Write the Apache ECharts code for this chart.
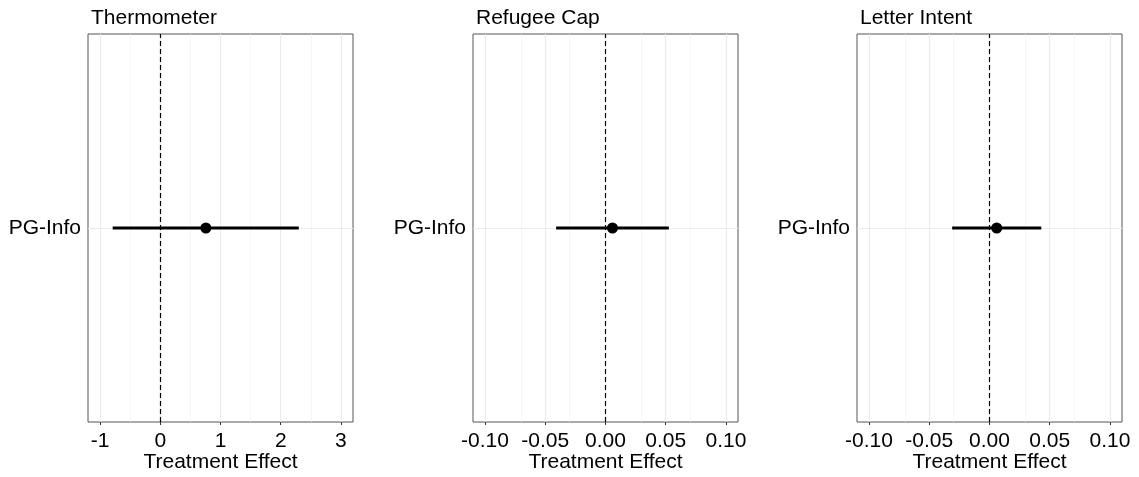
<!DOCTYPE html>
<html>
<head>
<meta charset="utf-8">
<script src="https://cdn.jsdelivr.net/npm/echarts@6/dist/echarts.min.js"></script>
<style>
html, body { margin: 0; background: #fff }
#c { width: 1139px; height: 477px }
</style>
</head>
<body>
<div id="c"></div>
<script>
const panels = ["Thermometer", "Refugee Cap", "Letter Intent"]
const term = "PG-Info"
const est = [0.757, 0.0058, 0.006]
const lo = [-0.79, -0.041, -0.031]
const hi = [2.30, 0.0526, 0.043]
const xMin = [-1.2, -0.11, -0.11]
const xMax = [3.2, 0.11, 0.11]
const ticks = [[-1, 0, 1, 2, 3], [-0.1, -0.05, 0, 0.05, 0.1], [-0.1, -0.05, 0, 0.05, 0.1]]
const tickLabels = [["-1", "0", "1", "2", "3"], ["-0.10", "-0.05", "0.00", "0.05", "0.10"], ["-0.10", "-0.05", "0.00", "0.05", "0.10"]]
const minorTicks = [[-0.5, 0.5, 1.5, 2.5], [-0.075, -0.025, 0.025, 0.075], [-0.075, -0.025, 0.025, 0.075]]

const FONT = "Liberation Sans, Arial, sans-serif"
const lefts = [88, 473, 857]
const chart = echarts.init(document.getElementById("c"), null, { renderer: "canvas" })

const opt = { animation: false, title: [], grid: [], xAxis: [], yAxis: [], series: [] }

panels.forEach((name, i) => {
    opt.title.push({ text: name, left: lefts[i] - 2, top: 3, textStyle: { fontFamily: FONT, fontSize: 21, fontWeight: "normal", color: "#000" } })
    opt.grid.push({ left: lefts[i], top: 34, width: 265, height: 388, outerBoundsMode: "none", containLabel: false, show: true, borderColor: "#555", borderWidth: 1, backgroundColor: "transparent" })
    opt.xAxis.push({
        type: "value", gridIndex: i, min: xMin[i], max: xMax[i],
        name: "Treatment Effect", nameLocation: "middle", nameGap: 29.5, nameMoveOverlap: false,
        nameTextStyle: { fontFamily: FONT, fontSize: 21, color: "#000" },
        axisLine: { show: false },
        axisTick: { show: true, length: 3, lineStyle: { color: "#333" }, customValues: ticks[i] },
        axisLabel: { fontFamily: FONT, fontSize: 21, color: "#000", margin: 9, customValues: ticks[i], formatter: v => tickLabels[i][ticks[i].findIndex(t => Math.abs(t - v) < 1e-9)] },
        splitLine: { show: false }
    })
    opt.yAxis.push({
        type: "value", gridIndex: i, min: 0, max: 2,
        axisLine: { show: false },
        axisTick: { show: true, length: 3, lineStyle: { color: "#333" }, customValues: [1] },
        axisLabel: { fontFamily: FONT, fontSize: 21, color: "#000", margin: 7, customValues: [1], formatter: () => term },
        splitLine: { show: false }
    })
    // background grid lines
    opt.series.push({
        type: "scatter", xAxisIndex: i, yAxisIndex: i, data: [], silent: true, z: 1,
        markLine: {
            z: 1, silent: true, symbol: "none", label: { show: false }, animation: false,
            data: ticks[i].map(t => ({ xAxis: t, lineStyle: { color: "#ebebeb", width: 1.1, type: "solid" } }))
                .concat(minorTicks[i].map(t => ({ xAxis: t, lineStyle: { color: "#f0f0f0", width: 0.6, type: "solid" } })))
                .concat([{ yAxis: 1, lineStyle: { color: "#ebebeb", width: 1.1, type: "solid" } }])
        }
    })
    // zero reference line
    opt.series.push({
        type: "scatter", xAxisIndex: i, yAxisIndex: i, data: [], silent: true, z: 2,
        markLine: { z: 2, silent: true, symbol: "none", label: { show: false }, animation: false, data: [{ xAxis: 0, lineStyle: { color: "#000", width: 1.2, type: [5, 3] } }] }
    })
    // interval
    opt.series.push({
        type: "line", xAxisIndex: i, yAxisIndex: i, data: [[lo[i], 1], [hi[i], 1]],
        symbol: "none", lineStyle: { color: "#000", width: 3 }, z: 3
    })
    // estimate
    opt.series.push({
        type: "scatter", xAxisIndex: i, yAxisIndex: i, data: [[est[i], 1]],
        symbolSize: 11, itemStyle: { color: "#000", opacity: 1 }, z: 4
    })
})

chart.setOption(opt)
</script>
</body>
</html>
